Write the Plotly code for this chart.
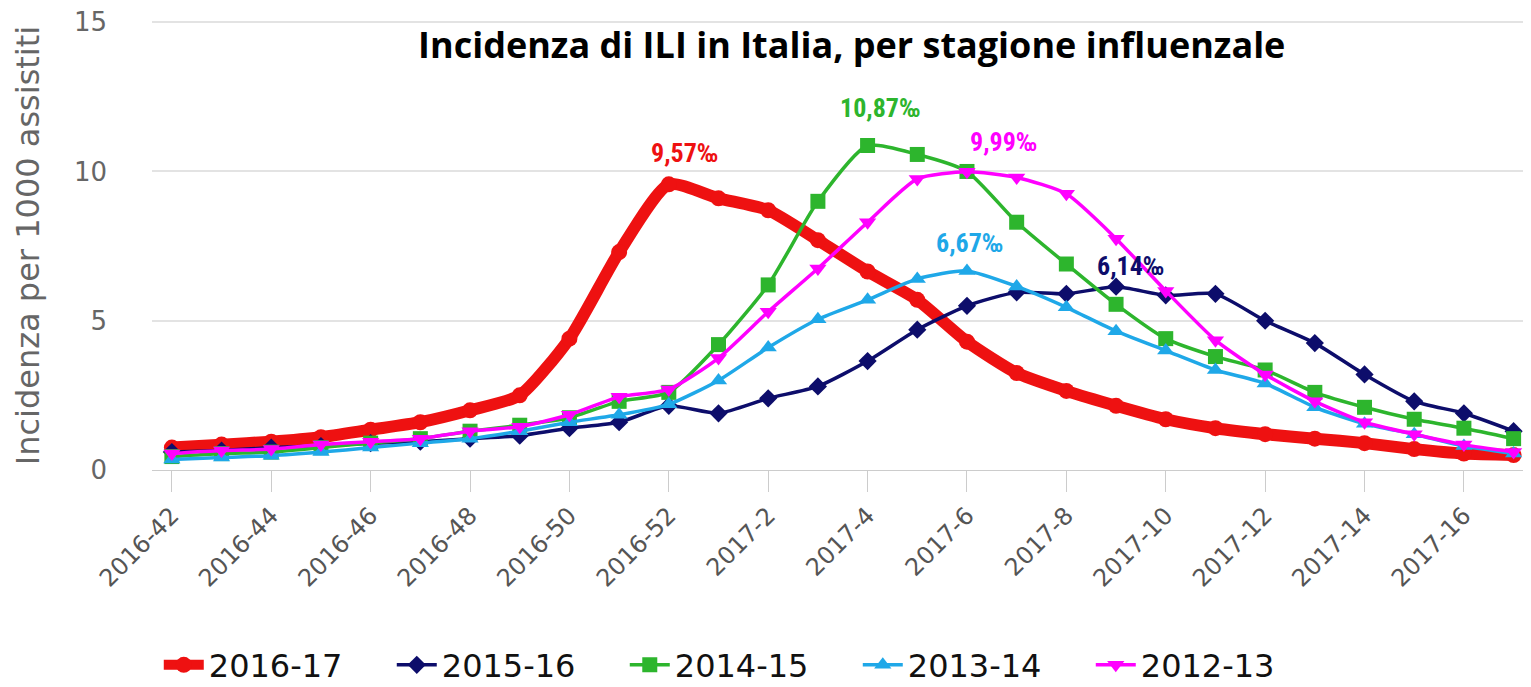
import plotly.graph_objects as go

# weeks of the flu season (2016-42 ... 2017-17)
weeks = [f"2016-{w}" for w in range(42, 53)] + [f"2017-{w}" for w in range(1, 18)]

s2016_17 = [0.75, 0.85, 0.95, 1.1, 1.35, 1.6, 2.0, 2.5, 4.4, 7.3, 9.57, 9.1, 8.7,
            7.7, 6.65, 5.7, 4.3, 3.25, 2.65, 2.15, 1.7, 1.4, 1.2, 1.05, 0.9, 0.7,
            0.55, 0.5]
s2015_16 = [0.6, 0.65, 0.75, 0.8, 0.9, 0.95, 1.05, 1.15, 1.4, 1.6, 2.15, 1.9, 2.4,
            2.8, 3.65, 4.7, 5.5, 5.95, 5.9, 6.14, 5.85, 5.9, 5.0, 4.25, 3.2, 2.3,
            1.9, 1.3]
s2014_15 = [0.45, 0.55, 0.6, 0.75, 0.9, 1.05, 1.3, 1.5, 1.75, 2.3, 2.6, 4.2, 6.2,
            9.0, 10.87, 10.57, 10.0, 8.3, 6.9, 5.55, 4.4, 3.8, 3.35, 2.6, 2.1, 1.7,
            1.4, 1.05]
s2013_14 = [0.35, 0.42, 0.48, 0.6, 0.75, 0.9, 1.05, 1.3, 1.6, 1.85, 2.2, 3.0, 4.1,
            5.05, 5.7, 6.4, 6.67, 6.15, 5.45, 4.65, 4.0, 3.35, 2.9, 2.1, 1.55, 1.2,
            0.8, 0.55]
s2012_13 = [0.55, 0.65, 0.7, 0.85, 0.95, 1.05, 1.3, 1.45, 1.85, 2.45, 2.7, 3.75,
            5.3, 6.75, 8.3, 9.75, 9.99, 9.8, 9.25, 7.75, 6.0, 4.35, 3.2, 2.3, 1.6,
            1.2, 0.85, 0.6]

series = [
    ("2016-17", s2016_17, "#ee1111", "circle", 12, 16),
    ("2015-16", s2015_16, "#0d0d6b", "diamond", 3.5, 14),
    ("2014-15", s2014_15, "#2db52d", "square", 3.5, 15),
    ("2013-14", s2013_14, "#1fa8e8", "triangle-up", 3.5, 15),
    ("2012-13", s2012_13, "#ff00ff", "triangle-down", 3.5, 15),
]

# peak label offsets (px)
label_shift = {
    "2016-17": (16, 31),
    "2015-16": (14, 21),
    "2014-15": (12, 37),
    "2013-14": (3, 28),
    "2012-13": (37, 30),
}

fig = go.Figure()

for name, vals, color, symbol, lw, ms in series:
    fig.add_trace(go.Scatter(
        name=name,
        x=weeks,
        y=vals,
        mode="lines+markers",
        line=dict(color=color, width=lw, shape="spline", smoothing=0.6),
        marker=dict(color=color, symbol=symbol, size=ms),
        cliponaxis=False,
    ))

for name, vals, color, symbol, lw, ms in series:
    peak = max(vals)
    i = vals.index(peak)
    dx, dy = label_shift[name]
    fig.add_annotation(
        x=weeks[i], y=peak, xref="x", yref="y",
        text=f"{peak:.2f}".replace(".", ",") + "‰",
        showarrow=False, xshift=dx, yshift=dy,
        font=dict(family="Liberation Sans Narrow, Roboto Condensed, Arial Narrow, sans-serif",
                  size=26, color=color, weight="bold"),
    )

# page body adds an 8px offset, so the figure is 8px smaller than the window
fig.update_layout(
    width=1523,
    height=679,
    paper_bgcolor="white",
    plot_bgcolor="white",
    margin=dict(l=144, r=0, t=13, b=217),
    title=dict(
        text="<b>Incidenza di ILI in Italia, per stagione influenzale</b>",
        x=0.554, xanchor="center", y=0.9455, yanchor="middle",
        font=dict(family="Open Sans", size=36, color="black"),
    ),
    showlegend=True,
    legend=dict(
        orientation="h",
        xref="container", yref="container",
        x=0.099, xanchor="left", y=0.0324, yanchor="middle",
        font=dict(family="DejaVu Sans", size=32, color="#111111"),
        entrywidth=178, entrywidthmode="pixels",
        itemwidth=40,
    ),
)

fig.update_xaxes(
    type="category",
    range=[-0.4, 27.35],
    tickvals=weeks[::2],
    ticktext=weeks[::2],
    tickangle=-45,
    ticks="outside",
    ticklen=21,
    tickcolor="#cccccc",
    showgrid=False,
    showline=True,
    linecolor="#cccccc",
    tickfont=dict(family="DejaVu Sans", size=24, color="#555555"),
)

fig.update_yaxes(
    range=[0, 15.04],
    tickvals=[0, 5, 10, 15],
    showgrid=True,
    gridcolor="#e3e3e3",
    gridwidth=2,
    zeroline=False,
    ticks="",
    ticklabelstandoff=44,
    ticklabeloverflow="allow",
    tickfont=dict(family="DejaVu Sans", size=26, color="#666666"),
    title=dict(text="Incidenza per 1000 assistiti", standoff=24,
               font=dict(family="DejaVu Sans", size=32, color="#666666")),
)

fig.write_html("out.html")
